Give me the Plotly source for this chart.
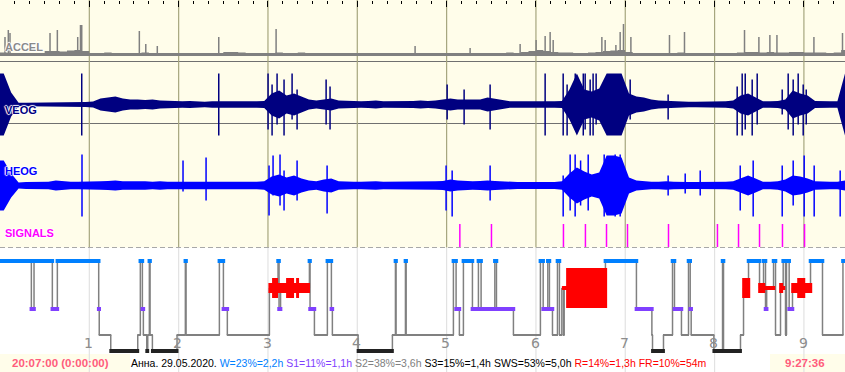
import plotly.graph_objects as go

# ---------------- data ----------------
TOTAL_H = 9.46          # recording length in hours (9:27:36)
BIN_H = 1 / 12          # envelope sampling: 5 minutes

hour_ticks = [1, 2, 3, 4, 5, 6, 7, 8, 9]
hour_labels = ["1", "2", "3", "4", "5", "6", "7", "8", "9"]

# ACCEL envelope (upper edge, arbitrary units) per 5-min bin
accel_env = [35, 30, 30, 30, 30, 30, 50, 50, 45, 55, 60, 50, 30, 30, 35, 30, 30, 30, 30, 35,
             30, 30, 30, 30, 30, 30, 30, 30, 30, 30, 40, 40, 35, 30, 30, 30, 30, 35, 30, 30,
             35, 30, 30, 30, 30, 30, 30, 30, 30, 30, 30, 30, 30, 30, 30, 30, 30, 30, 30, 30,
             30, 30, 30, 30, 30, 30, 30, 30, 35, 30, 40, 50, 60, 50, 40, 35, 35, 30, 30, 35,
             40, 50, 55, 60, 40, 30, 30, 30, 30, 30, 30, 35, 30, 30, 30, 30, 30, 30, 30, 35,
             40, 40, 35, 40, 35, 35, 40, 40, 35, 35, 35, 30, 35, 60]
accel_spk_t = [0.056, 0.093, 0.112, 0.560, 0.642, 0.870, 0.901, 0.915, 1.560, 1.632, 1.761,
               2.449, 3.091, 4.647, 5.263, 5.823, 6.002, 6.103, 6.159, 6.193, 6.738, 6.775,
               6.895, 6.943, 6.980, 7.063, 7.495, 7.663, 8.335, 8.496, 8.619, 8.698, 9.112, 9.432]
accel_spk_h = [190, 260, 230, 230, 260, 190, 310, 310, 250, 120, 100,
               190, 270, 100, 80, 120, 160, 200, 240, 160, 190, 160,
               110, 240, 320, 190, 210, 240, 260, 190, 210, 210, 190, 230]

# VEOG half-amplitude envelope (uV) per 5-min bin
veog_env = [310, 120, 18, 18, 18, 22, 22, 22, 22, 22, 22, 25, 30, 60, 70, 80, 60, 50, 50, 45,
            50, 40, 38, 32, 32, 36, 32, 28, 32, 32, 28, 28, 32, 28, 32, 36, 110, 140, 90, 110,
            80, 50, 40, 50, 60, 40, 36, 36, 32, 36, 40, 32, 32, 36, 32, 36, 40, 36, 40, 50,
            60, 50, 50, 45, 50, 70, 60, 45, 32, 32, 32, 28, 32, 32, 32, 36, 150, 310, 150, 130,
            160, 310, 310, 310, 110, 80, 70, 50, 40, 36, 32, 32, 28, 28, 28, 32, 32, 32, 40, 90,
            110, 70, 32, 32, 36, 50, 140, 110, 90, 36, 32, 32, 32, 310]
veog_spk_t = [0.915, 2.449, 3.001, 3.046, 3.102, 3.180, 3.270, 3.326, 3.651, 3.695, 5.006,
              5.196, 5.487, 6.103, 6.305, 6.349, 6.440, 6.530, 6.551, 6.607, 6.640, 6.674,
              7.055, 7.480, 8.253, 8.309, 8.343, 8.421, 8.477, 8.757, 8.824, 8.880, 8.936,
              8.992, 9.026]
veog_spk_up = [310, 310, 310, 200, 310, 250, 310, 150, 250, 180, 200,
               150, 200, 310, 310, 200, 310, 310, 310, 250, 310, 310,
               250, 100, 180, 310, 310, 250, 310, 150, 310, 250, 310,
               200, 150]
veog_spk_dn = [310, 310, 250, 310, 200, 310, 150, 250, 200, 250, 150,
               200, 250, 310, 310, 310, 250, 310, 250, 310, 310, 200,
               150, 150, 310, 310, 250, 310, 200, 100, 250, 310, 200,
               310, 200]

# HEOG half-amplitude envelope (uV) per 5-min bin
heog_env = [250, 120, 30, 34, 34, 34, 38, 50, 42, 38, 38, 38, 42, 42, 46, 50, 42, 42, 46, 42,
            38, 42, 38, 38, 34, 38, 34, 34, 38, 34, 34, 38, 34, 34, 38, 42, 90, 110, 80, 100,
            70, 50, 42, 60, 70, 42, 38, 38, 38, 42, 42, 38, 38, 42, 38, 38, 42, 38, 42, 46,
            60, 50, 46, 42, 46, 50, 46, 42, 34, 34, 34, 34, 34, 38, 34, 42, 120, 180, 140, 110,
            130, 300, 300, 280, 80, 50, 42, 38, 38, 42, 38, 34, 34, 34, 34, 38, 38, 38, 42, 70,
            100, 70, 38, 38, 42, 60, 100, 90, 70, 42, 38, 38, 38, 50]
heog_spk_t = [0.918, 2.049, 2.307, 3.012, 3.057, 3.135, 3.180, 3.326, 3.662, 4.994, 5.062,
              5.487, 6.305, 6.383, 6.439, 6.500, 6.585, 6.764, 6.887, 6.943, 7.480, 7.671,
              7.839, 8.287, 8.432, 8.757, 8.880, 9.003, 9.115, 9.406]
heog_spk_up = [310, 250, 280, 200, 300, 310, 150, 250, 200, 200, 150,
               200, 100, 310, 310, 250, 310, 310, 310, 310, 100, 120,
               150, 200, 250, 200, 250, 300, 200, 150]
heog_spk_dn = [310, 60, 150, 300, 100, 200, 250, 150, 280, 250, 310,
               150, 310, 250, 310, 200, 250, 310, 310, 310, 100, 80,
               100, 250, 310, 310, 200, 310, 310, 310]

# SIGNALS event markers (hours)
signal_t = [5.148, 5.502, 6.308, 6.554, 6.790, 7.025, 7.484, 8.032, 8.268, 8.503, 8.760, 9.007]

# Hypnogram: segment start (hours) and stage
hyp_start = [0.000, 0.351, 0.381, 0.586, 0.642, 1.105, 1.111, 1.240, 1.542, 1.571,
             1.594, 1.605, 1.643, 1.654, 1.672, 1.680, 1.706, 1.982, 2.075, 2.083,
             2.456, 2.501, 2.545, 3.016, 3.113, 3.124, 3.141, 3.464, 3.471, 3.520,
             3.665, 3.710, 3.721, 4.009, 4.393, 4.427, 4.434, 4.539, 4.547, 5.076,
             5.106, 5.143, 5.188, 5.289, 5.356, 5.386, 5.540, 5.558, 5.748, 6.050,
             6.081, 6.133, 6.151, 6.185, 6.241, 6.263, 6.290, 6.308, 6.316, 6.778,
             7.125, 7.298, 7.305, 7.428, 7.529, 7.551, 7.629, 7.708, 7.727, 7.738,
             7.992, 8.089, 8.100, 8.290, 8.324, 8.380, 8.503, 8.548, 8.570, 8.583,
             8.660, 8.682, 8.738, 8.768, 8.794, 8.805, 8.835, 8.872, 9.074, 9.208,
             9.437]
hyp_stage = ["W", "S1", "W", "S1", "W", "S1", "S2", "S3", "S2", "W",
             "S1", "S2", "S3", "S2", "W", "S2", "S3", "S2", "W", "S2",
             "W", "S1", "S2", "R", "W", "S1", "R", "W", "S1", "S2",
             "W", "S1", "S2", "S3", "S2", "W", "S2", "W", "S2", "W",
             "S1", "S2", "W", "S1", "W", "S1", "W", "S1", "S2", "W",
             "S1", "W", "S1", "S2", "W", "S2", "R", "S2", "R", "W",
             "S1", "S2", "S3", "S2", "W", "S1", "S2", "W", "S1", "S2",
             "S3", "W", "S3", "S2", "R", "W", "R", "W", "S1", "R",
             "W", "S2", "R", "W", "S2", "W", "S1", "R", "W", "S2",
             "W"]

# REM activity blocks (hours) and relative intensity
rem_start = [3.005, 3.046, 3.113, 3.203, 3.292, 3.315, 3.348, 6.293, 6.338,
             8.309, 8.488, 8.567, 8.723, 8.768, 8.858, 8.925, 9.015]
rem_end = [3.046, 3.113, 3.203, 3.292, 3.315, 3.348, 3.471, 6.338, 6.797,
           8.399, 8.567, 8.679, 8.768, 8.791, 8.925, 9.015, 9.093]
rem_amp = [1, 2, 1, 2, 1, 2, 1, 0.4, 4, 2, 1, 0.4, 1, 0.4, 1, 2, 1]

start_clock = "20:07:00 (0:00:00)"
duration_txt = "9:27:36"
info_parts = [("Анна. 29.05.2020. ", "#000000"), ("W=23%=2,2h ", "#0080FF"),
              ("S1=11%=1,1h ", "#8040FF"), ("S2=38%=3,6h ", "#808080"),
              ("S3=15%=1,4h SWS=53%=5,0h ", "#000000"), ("R=14%=1,3h FR=10%=54m", "#FF0000")]

# ---------------- layout constants ----------------
WPX, HPX = 845, 372
CREAM = "#FFFDEA"
STAGE_DEPTH = {"W": 14, "R": 41, "S1": 62, "S2": 88, "S3": 104}
REM_UNIT = 5


def py(px):
    return 1 - px / HPX


fig = go.Figure()

n_bins = len(veog_env)
t_edges = [i * BIN_H for i in range(n_bins)] + [TOTAL_H]
t_mid = [0.0] + [(i + 0.5) * BIN_H for i in range(n_bins - 1)] + [TOTAL_H]


def env_traces(env, color, yaxis, lower=None, stepped=False):
    if stepped:
        xs, up = t_edges, list(env) + [env[-1]]
        shape = "hv"
    else:
        xs, up = t_mid, [env[0]] + list(env)
        shape = "linear"
    lo = [-v for v in up] if lower is None else [lower] * len(up)
    fig.add_trace(go.Scatter(x=xs, y=lo, mode="lines", line=dict(color=color, width=0, shape=shape),
                             yaxis=yaxis, hoverinfo="skip", showlegend=False))
    fig.add_trace(go.Scatter(x=xs, y=up, mode="lines", line=dict(color=color, width=0, shape=shape),
                             fill="tonexty", fillcolor=color, yaxis=yaxis, hoverinfo="skip",
                             showlegend=False))


def spike_trace(ts, ups, dns, color, yaxis, width=1.5):
    xs, ys = [], []
    for t, u, d in zip(ts, ups, dns):
        xs += [t, t, None]
        ys += [-d, u, None]
    fig.add_trace(go.Scatter(x=xs, y=ys, mode="lines", line=dict(color=color, width=width),
                             yaxis=yaxis, hoverinfo="skip", showlegend=False))


# ACCEL
env_traces(accel_env, "#808080", "y", lower=0, stepped=True)
spike_trace(accel_spk_t, accel_spk_h, [0] * len(accel_spk_t), "#808080", "y")
# VEOG
env_traces(veog_env, "#000080", "y2")
spike_trace(veog_spk_t, veog_spk_up, veog_spk_dn, "#000080", "y2")
# HEOG
env_traces(heog_env, "#0000FF", "y3")
spike_trace(heog_spk_t, heog_spk_up, heog_spk_dn, "#0000FF", "y3")
# SIGNALS
sx, sy = [], []
for t in signal_t:
    sx += [t, t, None]
    sy += [0, 1, None]
fig.add_trace(go.Scatter(x=sx, y=sy, mode="lines", line=dict(color="#FF00FF", width=1.5),
                         yaxis="y4", hoverinfo="skip", showlegend=False))

# ---------------- hypnogram ----------------
hyp_end = hyp_start[1:] + [TOTAL_H]
cx, cy = [], []
for i in range(1, len(hyp_stage)):
    t = hyp_start[i]
    cx += [t, t, None]
    cy += [STAGE_DEPTH[hyp_stage[i - 1]], STAGE_DEPTH[hyp_stage[i]], None]
fig.add_trace(go.Scatter(x=cx, y=cy, mode="lines", line=dict(color="#808080", width=1.5),
                         yaxis="y5", hoverinfo="skip", showlegend=False))


def stage_bars(stage, color, width, pad):
    xs, ys = [], []
    d = STAGE_DEPTH[stage]
    for s, e, st in zip(hyp_start, hyp_end, hyp_stage):
        if st == stage:
            xs += [max(s - pad, 0), min(e + pad, TOTAL_H), None]
            ys += [d, d, None]
    fig.add_trace(go.Scatter(x=xs, y=ys, mode="lines", line=dict(color=color, width=width),
                             yaxis="y5", hoverinfo="skip", showlegend=False))


stage_bars("S2", "#808080", 2, 0.006)
stage_bars("R", "#FF0000", 3, 0.0)
stage_bars("W", "#0080FF", 4, 0.02)
stage_bars("S1", "#8040FF", 4, 0.02)
stage_bars("S3", "#222222", 4, 0.016)

rx, ry = [], []
dR = STAGE_DEPTH["R"]
for s, e, a in zip(rem_start, rem_end, rem_amp):
    h = a * REM_UNIT
    rx += [s, e, e, s, s, None]
    ry += [dR - h, dR - h, dR + h, dR + h, dR - h, None]
fig.add_trace(go.Scatter(x=rx, y=ry, mode="lines", line=dict(color="#FF0000", width=0),
                         fill="toself", fillcolor="#FF0000", yaxis="y5", hoverinfo="skip",
                         showlegend=False))

# ---------------- shapes ----------------
shapes = [
    dict(type="rect", xref="paper", yref="paper", x0=0, x1=1, y0=py(247.5), y1=1,
         fillcolor=CREAM, line=dict(width=0), layer="below"),
    dict(type="rect", xref="paper", yref="paper", x0=0, x1=130 / WPX, y0=0, y1=py(354),
         fillcolor=CREAM, line=dict(width=0), layer="below"),
    dict(type="rect", xref="paper", yref="paper", x0=770 / WPX, x1=1, y0=0, y1=py(354),
         fillcolor=CREAM, line=dict(width=0), layer="below"),
    dict(type="line", xref="paper", yref="paper", x0=0, x1=1, y0=py(61.5), y1=py(61.5),
         line=dict(color="#707070", width=1), layer="below"),
    dict(type="line", xref="paper", yref="paper", x0=0, x1=1, y0=py(123.5), y1=py(123.5),
         line=dict(color="#707070", width=1), layer="below"),
    dict(type="line", xref="paper", yref="paper", x0=0, x1=1, y0=py(247.5), y1=py(247.5),
         line=dict(color="#A8A8A8", width=1, dash="5px,3px"), layer="above"),
]
for h in hour_ticks:
    shapes.append(dict(type="line", xref="x", yref="paper", x0=h, x1=h, y0=py(247.5), y1=1,
                       line=dict(color="#A6A67E", width=1.2), layer="below"))
    shapes.append(dict(type="line", xref="x", yref="paper", x0=h, x1=h, y0=0, y1=py(248),
                       line=dict(color="#E2E2E2", width=1.2), layer="below"))

# ---------------- annotations ----------------
ann = []
lab_font = "Liberation Sans"
halo = "-1px 0px 1px #FFFFFF, 1px 0px 1px #FFFFFF, 0px -1px 1px #FFFFFF, 0px 1px 1px #FFFFFF"
for txt, col, ypx in [("ACCEL", "#8A8A8A", 46.5), ("VEOG", "#000080", 109.5),
                      ("HEOG", "#0000FF", 171), ("SIGNALS", "#FF00FF", 232.5)]:
    ann.append(dict(text="<b>%s</b>" % txt, xref="paper", yref="paper", x=3 / WPX, y=py(ypx),
                    xanchor="left", yanchor="middle", showarrow=False,
                    font=dict(family=lab_font, size=11, color=col, shadow=halo)))
for h, lab in zip(hour_ticks, hour_labels):
    ann.append(dict(text=lab, xref="x", yref="y5", x=h - 0.01, y=96, showarrow=False,
                    xanchor="center", yanchor="middle",
                    font=dict(family="DejaVu Sans", size=14, color="#8C8C8C")))
ann.append(dict(text="<b>%s</b>" % start_clock, xref="paper", yref="paper", x=60 / WPX, y=py(362.5),
                xanchor="center", yanchor="middle", showarrow=False,
                font=dict(family=lab_font, size=11.5, color="#FF5C7C")))
ann.append(dict(text="<b>%s</b>" % duration_txt, xref="paper", yref="paper", x=805 / WPX, y=py(362.5),
                xanchor="center", yanchor="middle", showarrow=False,
                font=dict(family=lab_font, size=11.5, color="#FF5C7C")))
info = "".join('<span style="color:%s">%s</span>' % (c, t.replace(" ", "&nbsp;")) for t, c in info_parts)
ann.append(dict(text=info, xref="paper", yref="paper", x=129 / WPX, y=py(362.5),
                xanchor="left", yanchor="middle", showarrow=False,
                font=dict(family=lab_font, size=10.5, color="#000000")))

hidden = dict(visible=False, fixedrange=True)
fig.update_layout(
    width=WPX, height=HPX, margin=dict(l=0, r=0, t=0, b=0),
    paper_bgcolor="white", plot_bgcolor="rgba(0,0,0,0)", showlegend=False,
    xaxis=dict(range=[0, TOTAL_H], domain=[0, 1], anchor="free", position=1, side="top",
               ticks="inside", ticklen=6, tickcolor="#000000", tickwidth=1, tick0=0, dtick=1,
               minor=dict(dtick=1 / 6, tick0=0, ticks="inside", ticklen=3, tickcolor="#000000"),
               showticklabels=False, showgrid=False, zeroline=False, showline=False),
    yaxis=dict(domain=[py(61), 1], range=[-50, 560], **hidden),
    yaxis2=dict(domain=[py(137), py(72)], range=[-325, 325], **hidden),
    yaxis3=dict(domain=[py(219), py(152)], range=[-335, 335], **hidden),
    yaxis4=dict(domain=[py(247), py(224)], range=[0, 1], **hidden),
    yaxis5=dict(domain=[0, py(247)], range=[125, 0], **hidden),
    shapes=shapes, annotations=ann,
)

fig.write_html("out.html", config={"displayModeBar": False},
               post_script="document.body.style.margin='0';document.body.style.overflow='hidden';")
